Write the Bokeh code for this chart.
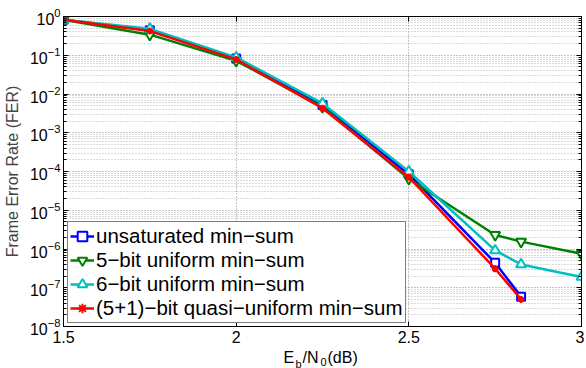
from bokeh.plotting import figure
from bokeh.layouts import column
from bokeh.models import (LogAxis, LinearAxis, FixedTicker, Legend, LegendItem,
                          Label, CustomJSTickFormatter)
from bokeh.embed import file_html
from bokeh.resources import INLINE

# ---- data ----
ebn0 = [1.5, 1.75, 2.0, 2.25, 2.5, 2.75, 2.825, 3.0]
fer_unsat = [0.82, 0.44, 0.083, 0.0052, 8.5e-5, 4.4e-7, 5.9e-8]
fer_5bit = [0.82, 0.34, 0.072, 0.0046, 6.5e-5, 2.3e-6, 1.55e-6, 7.5e-7]
fer_6bit = [0.82, 0.48, 0.088, 0.0057, 1.0e-4, 9.2e-7, 4.0e-7, 1.9e-7]
fer_quasi = [0.82, 0.42, 0.078, 0.0043, 7.1e-5, 3.1e-7, 5.0e-8]

labels = ["unsaturated min\u2212sum", "5\u2212bit uniform min\u2212sum",
          "6\u2212bit uniform min\u2212sum", "(5+1)\u2212bit quasi\u2212uniform min\u2212sum"]
x_ticks = [1.5, 2.0, 2.5, 3.0]
y_ticks = [1e-8, 1e-7, 1e-6, 1e-5, 1e-4, 1e-3, 1e-2, 1e-1, 1e0]
y_minor = [m * t for t in y_ticks[:-1] for m in range(2, 10)]

FONT = "Liberation Sans"

p = figure(width=584, height=348, x_range=(1.5, 3.0), y_range=(1e-8, 1.0),
           y_axis_type="log", output_backend="svg", toolbar_location=None,
           min_border_left=63, min_border_right=3, min_border_top=16, min_border_bottom=22)
p.outline_line_color = "black"
p.outline_line_width = 1
p.background_fill_color = "white"

# axes
p.xaxis.ticker = FixedTicker(ticks=x_ticks)
p.xaxis.formatter = CustomJSTickFormatter(code="return String(tick)")
p.yaxis.ticker = FixedTicker(ticks=y_ticks, minor_ticks=y_minor)
for ax in (p.xaxis[0], p.yaxis[0]):
    ax.major_label_text_font = FONT
    ax.major_label_text_font_size = "16px"
    ax.major_label_text_color = "black"
    ax.axis_line_color = "black"
    ax.major_tick_in = 5
    ax.major_tick_out = 0
    ax.major_tick_line_color = "black"
    ax.minor_tick_in = 3
    ax.minor_tick_out = 0
    ax.minor_tick_line_color = "black"
p.xaxis.minor_tick_line_color = None
p.xaxis.major_label_standoff = 4
p.yaxis.major_label_standoff = 3
p.yaxis.axis_label = "Frame Error Rate (FER)"
p.yaxis.axis_label_text_font = FONT
p.yaxis.axis_label_text_font_size = "16px"
p.yaxis.axis_label_text_font_style = "normal"
p.yaxis.axis_label_standoff = 6

# mirrored axes (box on), without labels
blank = CustomJSTickFormatter(code="return ''")
right = LogAxis(ticker=FixedTicker(ticks=y_ticks, minor_ticks=y_minor), formatter=blank,
                major_label_text_font_size="1px", major_label_standoff=0,
                major_tick_in=5, major_tick_out=0, minor_tick_in=3, minor_tick_out=0,
                axis_line_color="black")
p.add_layout(right, "right")
top = LinearAxis(ticker=FixedTicker(ticks=x_ticks), formatter=blank,
                 major_label_text_font_size="1px",
                 major_label_standoff=0, major_tick_in=5, major_tick_out=0,
                 minor_tick_line_color=None, axis_line_color="black")
p.add_layout(top, "above")

# grid
p.xgrid.ticker = FixedTicker(ticks=x_ticks)
p.ygrid.ticker = FixedTicker(ticks=y_ticks, minor_ticks=y_minor)
p.xgrid.grid_line_color = "#8c8c8c"
p.xgrid.grid_line_dash = "1 2"
p.ygrid.grid_line_color = "#8c8c8c"
p.ygrid.grid_line_dash = "1 2"
p.ygrid.minor_grid_line_color = "#b4b4b4"
p.ygrid.minor_grid_line_dash = "1 2"

# series
n_u = len(fer_unsat)
n_q = len(fer_quasi)
l1 = p.line(ebn0[:n_u], fer_unsat, line_color="#0000ff", line_width=2.5)
m1 = p.scatter(ebn0[:n_u], fer_unsat, marker="square", size=8, line_color="#0000ff",
               line_width=2, fill_color="white")
l2 = p.line(ebn0, fer_5bit, line_color="#008000", line_width=2.5)
m2 = p.scatter(ebn0, fer_5bit, marker="inverted_triangle", size=10, line_color="#008000",
               line_width=2, fill_color="white")
l3 = p.line(ebn0, fer_6bit, line_color="#00bfbf", line_width=2.5)
m3 = p.scatter(ebn0, fer_6bit, marker="triangle", size=10, line_color="#00bfbf",
               line_width=2, fill_color="white")
l4 = p.line(ebn0[:n_q], fer_quasi, line_color="#ff0000", line_width=2.5)
m4 = p.scatter(ebn0[:n_q], fer_quasi, marker="asterisk", size=7, line_color="#ff0000",
               line_width=2)

legend = Legend(items=[LegendItem(label=labels[0], renderers=[l1, m1]),
                       LegendItem(label=labels[1], renderers=[l2, m2]),
                       LegendItem(label=labels[2], renderers=[l3, m3]),
                       LegendItem(label=labels[3], renderers=[l4, m4])],
                location=(4, 3), border_line_color="black", border_line_width=1,
                background_fill_color="white", background_fill_alpha=1.0,
                padding=2, spacing=0, margin=0, glyph_width=24, glyph_height=24,
                label_height=24, label_standoff=2, label_text_font=FONT,
                label_text_font_size="20.5px", label_text_color="black")
p.add_layout(legend, "center")

# strip below the plot carrying the x axis label E_b/N_0 (dB) with subscripts
# (its frame is aligned with the main frame, so x is measured from x = 1.5)
p2 = figure(width=584, height=20, output_backend="svg", toolbar_location=None,
            x_axis_location=None, y_axis_location=None, min_border=0)
p2.outline_line_color = None
p2.grid.visible = False
parts = [("E", 220, 20, "16px"), ("b", 232, 11, "11px"), ("/N", 239, 20, "16px"),
         ("0", 257, 11, "11px"), (" (dB)", 264, 20, "16px")]
for txt, xs, ys, fs in parts:
    p2.add_layout(Label(x=xs, y=ys, x_units="screen", y_units="screen", text=txt,
                        text_font=FONT, text_font_size=fs, text_color="black",
                        text_align="left", text_baseline="top"))

layout = column(p, p2, spacing=0)
open("out.html", "w").write(file_html(layout, INLINE))
